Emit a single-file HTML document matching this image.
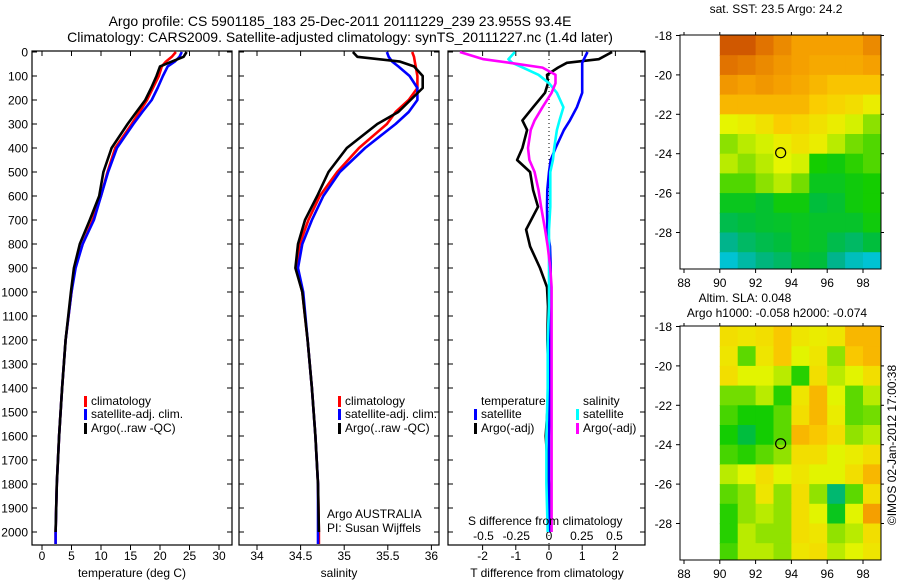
<!DOCTYPE html>
<html><head><meta charset="utf-8"><style>
html,body{margin:0;padding:0;background:#fff;}
svg text{font-family:"Liberation Sans",sans-serif;fill:#000;}
</style></head><body>
<svg id="c" width="900" height="580" viewBox="0 0 900 580" xmlns="http://www.w3.org/2000/svg">
<text x="340" y="26" font-size="14" text-anchor="middle">Argo profile: CS 5901185_183 25-Dec-2011 20111229_239 23.955S 93.4E</text>
<text x="340" y="42" font-size="14" text-anchor="middle">Climatology: CARS2009. Satellite-adjusted climatology: synTS_20111227.nc (1.4d later)</text>
<g id="g"></g>
</svg>
<script>
// ---- data ----
const depthTicks=[0,100,200,300,400,500,600,700,800,900,1000,1100,1200,1300,1400,1500,1600,1700,1800,1900,2000];
const tempTicks=[0,5,10,15,20,25,30];
const salTicks=[34,34.5,35,35.5,36];
const salTickLabels=["34","34.5","35","35.5","36"];
const dTTicks=[-2,-1,0,1,2];
const dSTicks=[-0.5,-0.25,0,0.25,0.5];
const dSTickLabels=["-0.5","-0.25","0","0.25","0.5"];
const depths=[0,20,40,60,100,150,200,250,300,400,500,600,700,800,900,1000,1200,1400,1600,1800,2000,2050];
const tempClim=[22.7,22.0,21.0,20.3,19.8,18.8,17.8,16.5,15.2,12.4,11.1,10.0,8.6,6.9,5.5,5.0,4.0,3.4,2.9,2.5,2.3,2.3];
const tempSat=[23.7,23.3,22.5,21.3,20.5,19.6,18.6,17.0,15.5,12.7,11.2,10.0,8.8,6.9,5.7,5.0,4.0,3.4,2.9,2.5,2.3,2.3];
const tempArgo=[24.5,24.0,22.0,20.0,19.4,18.5,17.5,16.0,14.5,11.8,10.4,9.7,8.1,6.4,5.4,4.9,4.0,3.4,2.9,2.5,2.3];
const salClim=[35.78,35.80,35.81,35.82,35.84,35.84,35.74,35.59,35.49,35.17,34.92,34.72,34.59,34.49,34.45,34.52,34.58,34.63,34.67,34.70,34.71,34.71];
const salSat=[35.49,35.51,35.55,35.62,35.75,35.84,35.84,35.74,35.59,35.24,34.95,34.76,34.63,34.52,34.47,34.53,34.58,34.63,34.67,34.70,34.70,34.70];
const salArgo=[35.10,35.15,35.64,35.80,35.90,35.90,35.76,35.62,35.38,35.03,34.82,34.69,34.55,34.47,34.44,34.52,34.58,34.63,34.67,34.70,34.71];
const diffDepths=[0,30,45,65,95,130,170,230,285,325,400,450,500,575,645,740,810,900,980,1060,1200,1400,1600,1800,2000];
const dTArgo=[1.9,1.5,0.54,0.27,-0.06,-0.03,-0.12,-0.48,-0.8,-0.66,-0.8,-0.96,-0.57,-0.48,-0.33,-0.69,-0.57,-0.27,-0.06,-0.03,-0.05,0.0,-0.1,0.0,0.0];
const dTSat=[1.16,1.05,1.0,1.0,1.0,1.0,1.0,0.84,0.63,0.45,0.2,0.05,0.0,-0.05,-0.06,-0.05,0.03,0.05,0.05,0.05,0.03,0.03,0.0,0.0,0.0];
const dSArgo=[-0.68,-0.5,-0.3,-0.05,0.05,0.05,0.02,-0.05,-0.11,-0.14,-0.16,-0.15,-0.11,-0.08,-0.06,-0.03,-0.01,0.01,0.02,0.02,0.02,0.02,0.02,0.02,0.02];
const dSSat=[-0.26,-0.31,-0.28,-0.2,-0.08,0.0,0.06,0.11,0.08,0.06,0.04,0.03,0.01,0.01,0.01,0.0,0.0,0.0,0.0,0.0,-0.01,-0.01,-0.02,-0.02,-0.01];
const lonTicks=[88,90,92,94,96,98];
const latTicks=[-18,-20,-22,-24,-26,-28];
const sstGrid=[
[0.95,0.95,0.9,0.85,0.8,0.8,0.8,0.8,0.85],
[0.9,0.88,0.85,0.82,0.8,0.78,0.78,0.78,0.8],
[0.82,0.8,0.82,0.8,0.78,0.75,0.72,0.72,0.72],
[0.75,0.75,0.75,0.75,0.75,0.7,0.68,0.66,0.62],
[0.6,0.62,0.65,0.7,0.68,0.65,0.62,0.58,0.5],
[0.5,0.55,0.58,0.62,0.65,0.62,0.55,0.48,0.45],
[0.55,0.5,0.55,0.6,0.58,0.4,0.38,0.42,0.45],
[0.45,0.45,0.5,0.55,0.48,0.35,0.35,0.38,0.4],
[0.35,0.35,0.32,0.38,0.38,0.3,0.32,0.38,0.4],
[0.28,0.3,0.32,0.33,0.35,0.33,0.33,0.33,0.38],
[0.2,0.25,0.28,0.3,0.35,0.33,0.28,0.25,0.3],
[0.05,0.15,0.22,0.25,0.32,0.3,0.2,0.1,0.05]];
const slaGrid=[
[0.62,0.6,0.62,0.68,0.6,0.58,0.6,0.72,0.72],
[0.6,0.4,0.6,0.68,0.55,0.6,0.45,0.68,0.72],
[0.62,0.55,0.55,0.5,0.35,0.62,0.5,0.55,0.62],
[0.42,0.42,0.5,0.35,0.6,0.72,0.55,0.4,0.5],
[0.38,0.33,0.33,0.4,0.62,0.72,0.58,0.4,0.42],
[0.33,0.22,0.33,0.4,0.72,0.68,0.62,0.45,0.5],
[0.38,0.35,0.4,0.45,0.62,0.62,0.55,0.58,0.62],
[0.5,0.55,0.62,0.55,0.6,0.55,0.55,0.62,0.72],
[0.4,0.45,0.6,0.45,0.62,0.45,0.15,0.4,0.62],
[0.35,0.45,0.5,0.45,0.62,0.55,0.28,0.55,0.78],
[0.35,0.5,0.45,0.45,0.62,0.6,0.45,0.5,0.62],
[0.38,0.5,0.5,0.45,0.6,0.62,0.5,0.55,0.6]];
const argoLon=93.4, argoLat=-23.95;

// ---- helpers ----
const NS="http://www.w3.org/2000/svg";
const G=document.getElementById('g');
function mk(tag,attrs,parent){const e=document.createElementNS(NS,tag);for(const k in attrs)e.setAttribute(k,attrs[k]);(parent||G).appendChild(e);return e;}
function txt(x,y,s,size,anchor){const t=mk('text',{x:x,y:y,'font-size':size||12,'text-anchor':anchor||'middle'});t.textContent=s;return t;}
const TOP=51,BOT=545;
const yD=d=>52+d*0.24;
const xT=v=>42+5.9*v;
const xS=v=>257+87.2*(v-34);
const xDT=v=>549+33.2*v;
const xDS=v=>549+131*v;

const panels=[{l:32,r:232,name:'temperature-panel'},{l:239,r:439,name:'salinity-panel'},{l:448,r:645,name:'difference-panel'}];
panels.forEach((p,i)=>{
  const f=mk('rect',{x:p.l,y:TOP,width:p.r-p.l,height:BOT-TOP,fill:'none',stroke:'#000','stroke-width':1.2});
  
  
  const cp=mk('clipPath',{id:'cp'+i});mk('rect',{x:p.l,y:TOP,width:p.r-p.l,height:BOT-TOP},cp);
  depthTicks.forEach(d=>{
    mk('line',{x1:p.l,x2:p.l+5,y1:yD(d),y2:yD(d),stroke:'#000'});
    mk('line',{x1:p.r-5,x2:p.r,y1:yD(d),y2:yD(d),stroke:'#000'});
  });
});
depthTicks.forEach(d=>{
  const t=txt(28,yD(d)+4.5,String(d),12,'end');
  
  
});
function xticks(vals,labels,fx,ly){
  vals.forEach((v,i)=>{const x=fx(v);
    mk('line',{x1:x,x2:x,y1:TOP,y2:TOP+5,stroke:'#000'});
    mk('line',{x1:x,x2:x,y1:BOT,y2:BOT+5,stroke:'#000'});
    if(ly){const t=txt(x,ly,labels[i],12);
      
      }
  });
}
xticks(tempTicks,tempTicks.map(String),xT,560);
xticks(salTicks,salTickLabels,xS,560);
xticks(dTTicks,dTTicks.map(String),xDT,560);
dSTicks.forEach((v,i)=>{const t=txt(xDS(v),540,dSTickLabels[i],12);
  
  });
const zl=mk('line',{x1:549,x2:549,y1:TOP,y2:BOT,stroke:'#000','stroke-dasharray':'1,3'});



function line(xs,ds,fx,color,ci,name){
  const pts=xs.map((v,i)=>fx(v).toFixed(1)+','+yD(ds[i]).toFixed(1)).join(' ');
  const pl=mk('polyline',{points:pts,fill:'none',stroke:color,'stroke-width':2.6,'stroke-linejoin':'round','clip-path':'url(#cp'+ci+')'});
  
  
}
line(tempClim,depths,xT,'#f00',0,'temp-climatology-line');
line(tempSat,depths,xT,'#00f',0,'temp-satellite-line');
line(tempArgo,depths,xT,'#000',0,'temp-argo-line');
line(salClim,depths,xS,'#f00',1,'sal-climatology-line');
line(salSat,depths,xS,'#00f',1,'sal-satellite-line');
line(salArgo,depths,xS,'#000',1,'sal-argo-line');
line(dTArgo,diffDepths,xDT,'#000',2,'dT-argo-line');
line(dTSat,diffDepths,xDT,'#00f',2,'dT-satellite-line');
line(dSSat,diffDepths,xDS,'#0ff',2,'dS-satellite-line');
line(dSArgo,diffDepths,xDS,'#f0f',2,'dS-argo-line');

function legend(x,y,color,label){
  const r=mk('rect',{x:x,y:y-9,width:3,height:11,fill:color});
  
  
  const t=txt(x+7,y,label,12,'start');
  
  
}
[84,338].forEach(x=>{
  legend(x,405,'#f00','climatology');legend(x,418,'#00f','satellite-adj. clim.');legend(x,432,'#000','Argo(..raw -QC)');});
txt(481,405,'temperature',12,'start');txt(583,405,'salinity',12,'start');
legend(474,418,'#00f','satellite');legend(474,432,'#000','Argo(-adj)');
legend(576,418,'#0ff','satellite');legend(576,432,'#f0f','Argo(-adj)');
txt(327,518,'Argo AUSTRALIA',12,'start');
txt(327,532,'PI: Susan Wijffels',12,'start');
txt(468,525,'S difference from climatology',12,'start');
txt(132,577,'temperature (deg C)',12);
txt(339,577,'salinity',12);
txt(547,577,'T difference from climatology',12);

// ---- maps ----
const stops=[[0,[0,200,235]],[0.2,[0,180,140]],[0.3,[0,190,60]],[0.4,[20,205,0]],[0.5,[140,225,0]],[0.6,[230,245,0]],[0.7,[250,205,0]],[0.8,[245,160,0]],[0.9,[225,115,0]],[1,[190,60,0]]];
function cmap(v){for(let i=1;i<stops.length;i++){if(v<=stops[i][0]){const a=stops[i-1],b=stops[i],t=(v-a[0])/(b[0]-a[0]);return 'rgb('+a[1].map((c,k)=>Math.round(c+(b[1][k]-c)*t)).join(',')+')';}}return 'rgb(190,60,0)';}
function map(top,grid,name,ci){
  const L=680,R=881,Bt=top+234;
  const xL=lo=>684+17.9*(lo-88), yL=la=>top+0.5+19.7*(-18-la);
  const cp=mk('clipPath',{id:'mcp'+ci});mk('rect',{x:L,y:top,width:R-L,height:Bt-top},cp);
  const g=mk('g',{'clip-path':'url(#mcp'+ci+')'});
  
  
  grid.forEach((row,r)=>row.forEach((v,c)=>{
    const x0=xL(90+c),y0=yL(-18-r);
    const cell=mk('rect',{x:x0.toFixed(1),y:y0.toFixed(1),width:(xL(91+c)-x0+0.6).toFixed(1),height:(yL(-19-r)-y0+0.6).toFixed(1),fill:cmap(v)},g);
    
    
  }));
  const f=mk('rect',{x:L,y:top,width:R-L,height:Bt-top,fill:'none',stroke:'#000'});
  
  
  lonTicks.forEach(lo=>{const x=xL(lo);mk('line',{x1:x,x2:x,y1:Bt,y2:Bt+4,stroke:'#000'});mk('line',{x1:x,x2:x,y1:top,y2:top-3,stroke:'#000'});
    const t=txt(x,Bt+18,String(lo),12);});
  latTicks.forEach(la=>{const y=yL(la);mk('line',{x1:L-4,x2:L,y1:y,y2:y,stroke:'#000'});mk('line',{x1:R,x2:R+3,y1:y,y2:y,stroke:'#000'});
    const t=txt(L-8,y+4.5,String(la),12,'end');});
  const m=mk('ellipse',{cx:xL(argoLon),cy:yL(argoLat),rx:5,ry:5,fill:'none',stroke:'#000','stroke-width':1.2});
  
  
}
map(35,sstGrid,'sst-map',0);
map(326,slaGrid.map(r=>r.map(v=>Math.min(1,v*0.9+0.1))),'sla-map',1);
txt(776,13,'sat. SST: 23.5 Argo: 24.2',12);
txt(745,302,'Altim. SLA: 0.048',12);
txt(777,317,'Argo h1000: -0.058 h2000: -0.074',12);
const cr=txt(0,0,'©IMOS 02-Jan-2012 17:00:38',12);
cr.setAttribute('transform','translate(896,445) rotate(-90)');


</script>
</body></html>
